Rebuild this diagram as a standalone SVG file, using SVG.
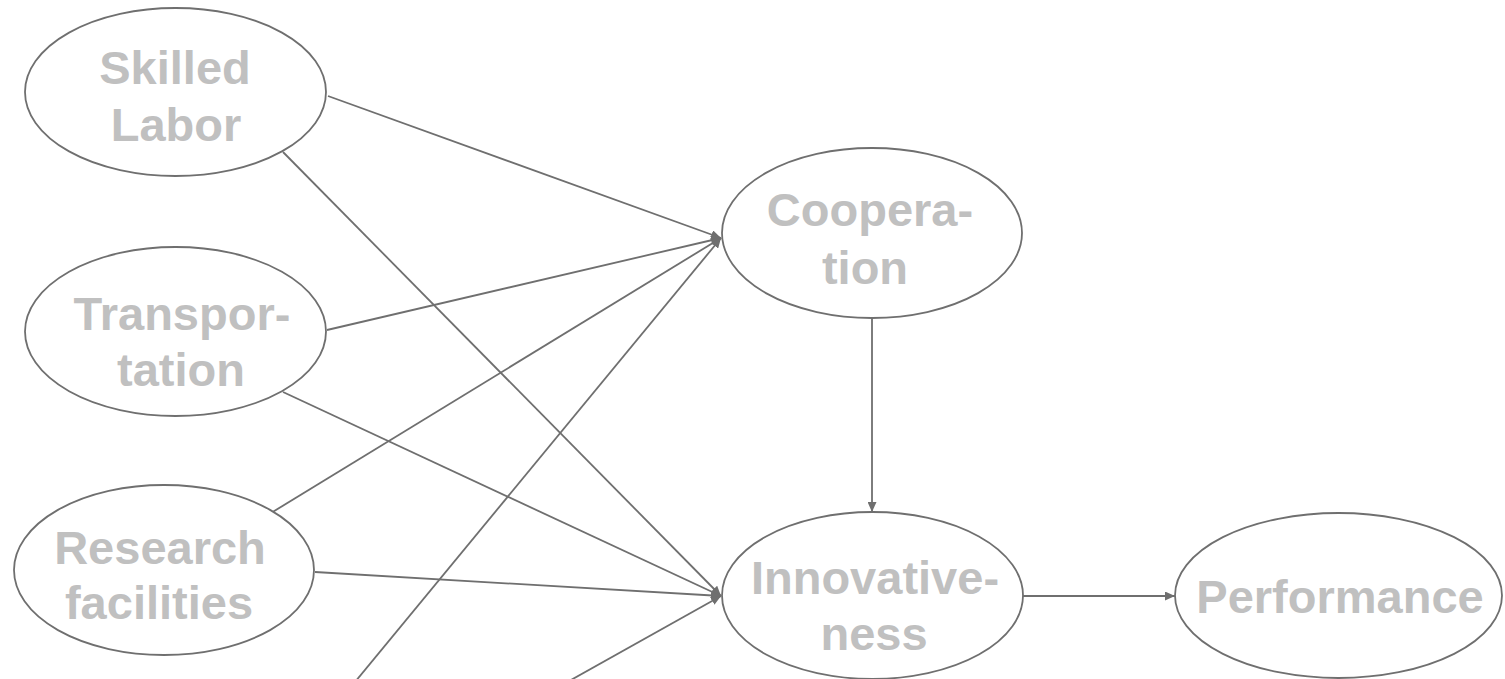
<svg xmlns="http://www.w3.org/2000/svg" width="1505" height="679" viewBox="0 0 1505 679">
  <style>
    .node ellipse { fill: #ffffff; stroke: #6f6f6f; stroke-width: 1.8; }
    .node text { font-family: "Liberation Sans", Arial, sans-serif; font-weight: bold; font-size: 47px; fill: #c0c0c0; text-anchor: middle; }
    .edge { stroke: #6f6f6f; stroke-width: 1.8; fill: none; marker-end: url(#arrow); }
  </style>
  <defs>
    <marker id="arrow" markerUnits="userSpaceOnUse" markerWidth="11" markerHeight="9" refX="10" refY="4.5" orient="auto">
      <path d="M0,0 L10,4.5 L0,9 z" fill="#6f6f6f"/>
    </marker>
  </defs>
  <rect width="1505" height="679" fill="#ffffff"/>

  <g id="connectors">
    <line class="edge" x1="328" y1="96" x2="721" y2="238"/>
    <line class="edge" x1="283" y1="152" x2="721" y2="596"/>
    <line class="edge" x1="327" y1="330" x2="721" y2="238"/>
    <line class="edge" x1="283" y1="392" x2="721" y2="596"/>
    <line class="edge" x1="271" y1="513" x2="721" y2="238"/>
    <line class="edge" x1="315" y1="572" x2="721" y2="596"/>
    <line class="edge" x1="341" y1="699" x2="721" y2="238"/>
    <line class="edge" x1="537" y1="699" x2="721" y2="596"/>
    <line class="edge" x1="872" y1="318" x2="872" y2="512"/>
    <line class="edge" x1="1023" y1="596" x2="1175" y2="596"/>
  </g>

  <g id="skilled-labor" class="node">
    <ellipse cx="175.5" cy="92" rx="150.5" ry="84"/>
    <text x="175" y="84">Skilled</text>
    <text x="176" y="141">Labor</text>
  </g>

  <g id="transportation" class="node">
    <ellipse cx="175.5" cy="331.5" rx="150.5" ry="84.5"/>
    <text x="182" y="330">Transpor-</text>
    <text x="181" y="386">tation</text>
  </g>

  <g id="research-facilities" class="node">
    <ellipse cx="164" cy="570" rx="150" ry="85"/>
    <text x="160" y="564">Research</text>
    <text x="159" y="619">facilities</text>
  </g>

  <g id="cooperation" class="node">
    <ellipse cx="872" cy="233" rx="150" ry="85"/>
    <text x="870" y="226">Coopera-</text>
    <text x="865" y="284">tion</text>
  </g>

  <g id="innovativeness" class="node">
    <ellipse cx="872.5" cy="595.5" rx="150.5" ry="83.5"/>
    <text x="875" y="594">Innovative-</text>
    <text x="874" y="650">ness</text>
  </g>

  <g id="performance" class="node">
    <ellipse cx="1338.5" cy="595.5" rx="163.5" ry="82.5"/>
    <text x="1340" y="613">Performance</text>
  </g>
</svg>
